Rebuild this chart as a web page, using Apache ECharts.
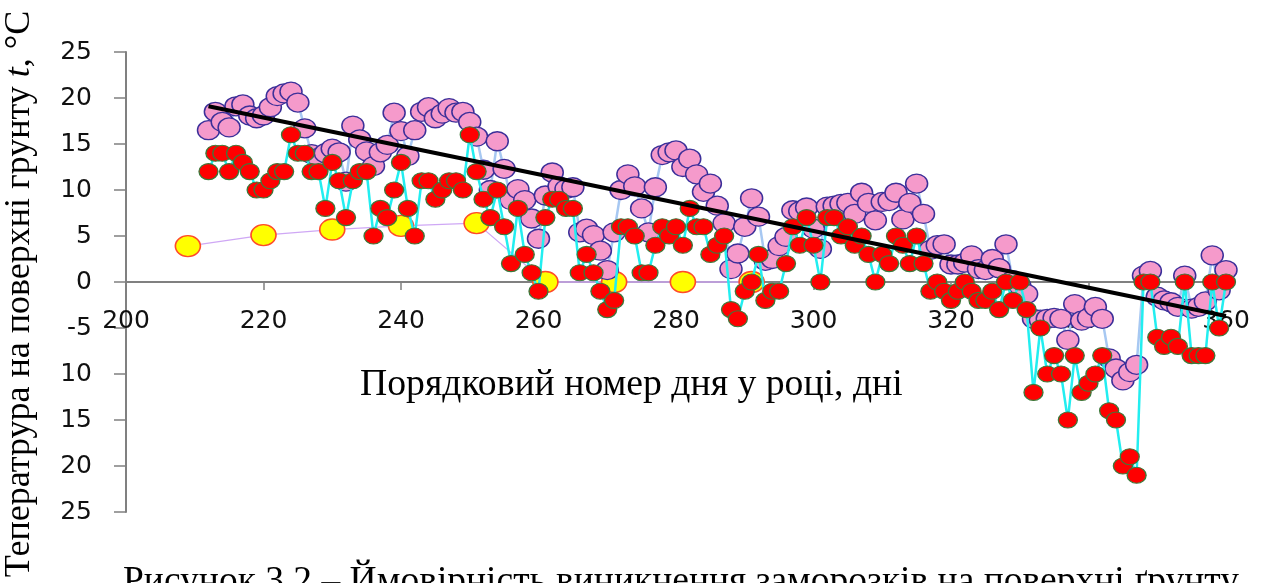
<!DOCTYPE html>
<html>
<head>
<meta charset="utf-8">
<script src="https://cdn.jsdelivr.net/npm/echarts@6/dist/echarts.min.js"></script>
<style>
  html, body { margin: 0; padding: 0; background: #ffffff; }
  #chart { width: 1272px; height: 583px; }
</style>
</head>
<body>
<div id="chart"></div>
<script>
// Day-of-year series (first day 212, one value per day up to 360)
const firstDay = 212;

// Daily mean soil-surface temperature, °C
const meanTemp = [
  16.5, 18.5, 17.4, 16.8, 19.1, 19.3, 18.1, 17.8, 18.1, 19.0, 20.2, 20.5, 20.7, 19.5, 16.7,
  13.9, 13.5, 14.0, 14.5, 14.1, 10.9, 17.0, 15.5, 14.2, 12.6, 14.1, 14.9, 18.4, 16.4, 13.7,
  16.5, 18.5, 19.0, 17.8, 18.3, 18.9, 18.4, 18.5, 17.4, 15.8, 12.2, 10.0, 15.3, 12.3, 8.9,
  10.1, 8.9, 6.9, 4.7, 9.4, 11.9, 10.4, 10.1, 10.3, 5.4, 5.8, 5.1, 3.4, 1.3, 5.4,
  10.0, 11.7, 10.4, 8.0, 5.4, 10.3, 13.8, 14.1, 14.3, 12.5, 13.4, 11.7, 9.8, 10.7, 8.3,
  6.4, 1.4, 3.1, 6.0, 9.1, 7.1, 2.3, 2.5, 3.9, 4.9, 7.8, 7.7, 8.1, 5.8, 3.6,
  8.2, 8.3, 8.5, 8.6, 7.4, 9.7, 8.6, 6.7, 8.7, 8.8, 9.7, 6.8, 8.6, 10.7, 7.4,
  3.5, 4.0, 4.1, 1.9, 1.9, 2.1, 2.9, 1.4, 1.3, 2.5, 1.5, 4.1, 0.2, -0.4, -1.3,
  -4.0, -4.1, -4.0, -3.9, -4.0, -6.3, -2.4, -4.2, -3.9, -2.7, -4.0, -8.3, -9.4, -10.7, -9.8,
  -9.0, 0.7, 1.2, -1.6, -2.0, -2.2, -2.7, 0.7, -2.9, -2.7, -2.1, 2.9, -0.9, 1.3
];

// Daily minimum soil-surface temperature, °C
const minTemp = [
  12, 14, 14, 12, 14, 13, 12, 10, 10, 11, 12, 12, 16, 14, 14,
  12, 12, 8, 13, 11, 7, 11, 12, 12, 5, 8, 7, 10, 13, 8,
  5, 11, 11, 9, 10, 11, 11, 10, 16, 12, 9, 7, 10, 6, 2,
  8, 3, 1, -1, 7, 9, 9, 8, 8, 1, 3, 1, -1, -3, -2,
  6, 6, 5, 1, 1, 4, 6, 5, 6, 4, 8, 6, 6, 3, 4,
  5, -3, -4, -1, 0, 3, -2, -1, -1, 2, 6, 4, 7, 4, 0,
  7, 7, 5, 6, 4, 5, 3, 0, 3, 2, 5, 4, 2, 5, 2,
  -1, 0, -1, -2, -1, 0, -1, -2, -2, -1, -3, 0, -2, 0, -3,
  -12, -5, -10, -8, -10, -15, -8, -12, -11, -10, -8, -14, -15, -20, -19,
  -21, 0, 0, -6, -7, -6, -7, 0, -8, -8, -8, 0, -5, 0
];

// Ten-day frost probability points
const frostDays = [209, 220, 230, 240, 251, 261, 271, 281, 291];
const frostValues = [3.9, 5.1, 5.7, 6.1, 6.4, 0, 0, 0, 0];

// Linear trend of the mean temperature (end points)
const trendDays = [212, 360];
const trendValues = [19.1, -3.7];

// Axis ranges and tick steps
const xRange = [200, 360, 20];
const yRange = [-25, 25, 5];

const pair = (xs, ys) => ys.map((v, i) => [xs[i], v]);
const daily = vals => vals.map((v, i) => [firstDay + i, v]);

const chart = echarts.init(document.getElementById('chart'), null, { renderer: 'canvas' });

const gridTop = 52, gridBottom = 71;
const plotHeight = 583 - gridTop - gridBottom;
const axisFont = { fontFamily: 'DejaVu Sans', fontSize: 25, color: '#111' };
const serif = 'Liberation Serif';

chart.setOption({
  animation: false,
  backgroundColor: '#ffffff',
  grid: { left: 126, right: 46, top: gridTop, bottom: gridBottom, containLabel: false },
  xAxis: {
    type: 'value',
    min: xRange[0], max: xRange[1], interval: xRange[2],
    position: 'bottom',
    // the day axis runs through the zero level of the temperature scale
    offset: -plotHeight * (0 - yRange[0]) / (yRange[1] - yRange[0]),
    axisLine: { onZero: false, lineStyle: { color: '#808080', width: 2 } },
    axisTick: { show: true, inside: false, length: 8, lineStyle: { color: '#808080', width: 1.5 } },
    axisLabel: Object.assign({ margin: 27 }, axisFont),
    splitLine: { show: false }
  },
  yAxis: {
    type: 'value',
    min: yRange[0], max: yRange[1], interval: yRange[2],
    axisLine: { show: true, onZero: false, lineStyle: { color: '#808080', width: 2 } },
    axisTick: { show: true, inside: false, length: 12, lineStyle: { color: '#808080', width: 1.5 } },
    axisLabel: Object.assign({
      margin: 34,
      formatter: v => (v < -5 ? String(-v) : String(v))
    }, axisFont),
    splitLine: { show: false }
  },
  series: [
    {
      name: 'frost',
      type: 'line',
      data: pair(frostDays, frostValues),
      symbol: 'circle',
      symbolSize: [25, 21],
      lineStyle: { color: '#cfa8f5', width: 1.3 },
      itemStyle: { color: '#ffff00', borderColor: '#ff4a2a', borderWidth: 1.5 },
      z: 2
    },
    {
      name: 'mean',
      type: 'line',
      data: daily(meanTemp),
      symbol: 'circle',
      symbolSize: [22, 19],
      lineStyle: { color: '#a7c8f2', width: 2.5 },
      itemStyle: { color: '#f59acb', borderColor: '#3b2f99', borderWidth: 1.4 },
      z: 3
    },
    {
      name: 'min',
      type: 'line',
      data: daily(minTemp),
      symbol: 'circle',
      symbolSize: [19, 16],
      lineStyle: { color: '#22eef0', width: 2.5 },
      itemStyle: { color: '#ff0000', borderColor: '#3b7a3b', borderWidth: 1.2 },
      z: 4
    },
    {
      name: 'trend',
      type: 'line',
      data: pair(trendDays, trendValues),
      symbol: 'none',
      lineStyle: { color: '#000000', width: 4 },
      z: 5
    }
  ],
  graphic: [
    {
      type: 'text',
      x: 20, y: 294,
      rotation: Math.PI / 2,
      style: {
        text: 'Теператрура на поверхні грунту {i|t}, °C',
        font: '36px "' + serif + '"',
        fill: '#000',
        align: 'center',
        verticalAlign: 'middle',
        rich: { i: { fontStyle: 'italic', fontFamily: serif, fontSize: 36 } }
      }
    },
    {
      type: 'text',
      x: 360, y: 385,
      style: {
        text: 'Порядковий номер дня у році, дні',
        font: '37.7px "' + serif + '"',
        fill: '#000',
        align: 'left',
        verticalAlign: 'middle'
      }
    },
    {
      type: 'text',
      x: 123, y: 582,
      style: {
        text: 'Рисунок 3.2 – Ймовірність виникнення заморозків на поверхні ґрунту',
        font: '37.5px "' + serif + '"',
        fill: '#000',
        align: 'left',
        verticalAlign: 'middle'
      }
    }
  ]
});
</script>
</body>
</html>
